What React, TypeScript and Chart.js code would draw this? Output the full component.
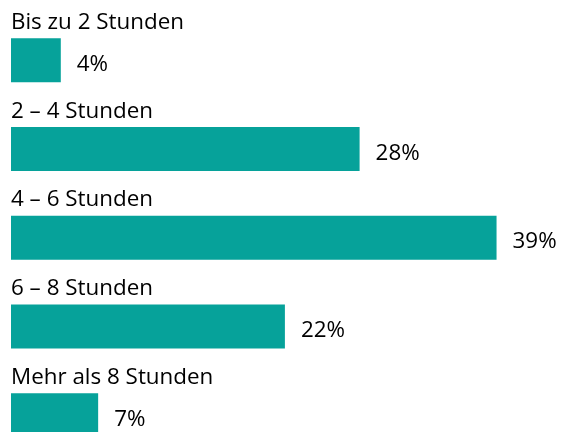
import React, { useEffect, useRef } from "react";
import { Chart, registerables } from "chart.js";

Chart.register(...registerables);

const categories = [
  "Bis zu 2 Stunden",
  "2 – 4 Stunden",
  "4 – 6 Stunden",
  "6 – 8 Stunden",
  "Mehr als 8 Stunden",
];
const values = [4, 28, 39, 22, 7];
const valueSuffix = "%";

const BAR_COLOR = "#06A29A";
const FONT_FAMILY = "'Open Sans', sans-serif";
const FONT_SIZE = 22.4;

const labelPlugin = {
  id: "barLabels",
  afterDatasetsDraw(chart: any) {
    const ctx = chart.ctx;
    const meta = chart.getDatasetMeta(0);
    const area = chart.chartArea;
    ctx.save();
    ctx.fillStyle = "#000000";
    ctx.font = `${FONT_SIZE}px ${FONT_FAMILY}`;
    ctx.textAlign = "left";
    ctx.textBaseline = "alphabetic";
    meta.data.forEach((bar: any, i: number) => {
      const props = bar.getProps(["x", "y", "base", "height"], true);
      const top = props.y - props.height / 2;
      ctx.fillText(chart.data.labels[i], area.left, top - 9.5);
      const v = chart.data.datasets[0].data[i];
      ctx.fillText(`${v}${valueSuffix}`, props.x + 16, props.y + 10.5);
    });
    ctx.restore();
  },
};

export default function App() {
  const ref = useRef<HTMLCanvasElement>(null);
  useEffect(() => {
    if (!ref.current) return;
    const chart = new Chart(ref.current, {
      type: "bar",
      data: {
        labels: categories,
        datasets: [
          {
            data: values,
            backgroundColor: BAR_COLOR,
            borderWidth: 0,
            barPercentage: 0.496,
            categoryPercentage: 1,
          },
        ],
      },
      options: {
        indexAxis: "y",
        responsive: false,
        animation: false,
        layout: { padding: { left: 11, right: 10.2, top: 16, bottom: 0.5 } },
        plugins: {
          legend: { display: false },
          tooltip: { enabled: false },
        },
        scales: {
          x: { display: false, min: 0, max: 44 },
          y: { display: false },
        },
      },
      plugins: [labelPlugin],
    });
    return () => chart.destroy();
  }, []);
  return (
    <div style={{ position: "fixed", left: 0, top: 0, width: 569, height: 460, background: "#fff" }}>
      <canvas ref={ref} width={569} height={460} style={{ display: "block" }} />
    </div>
  );
}
